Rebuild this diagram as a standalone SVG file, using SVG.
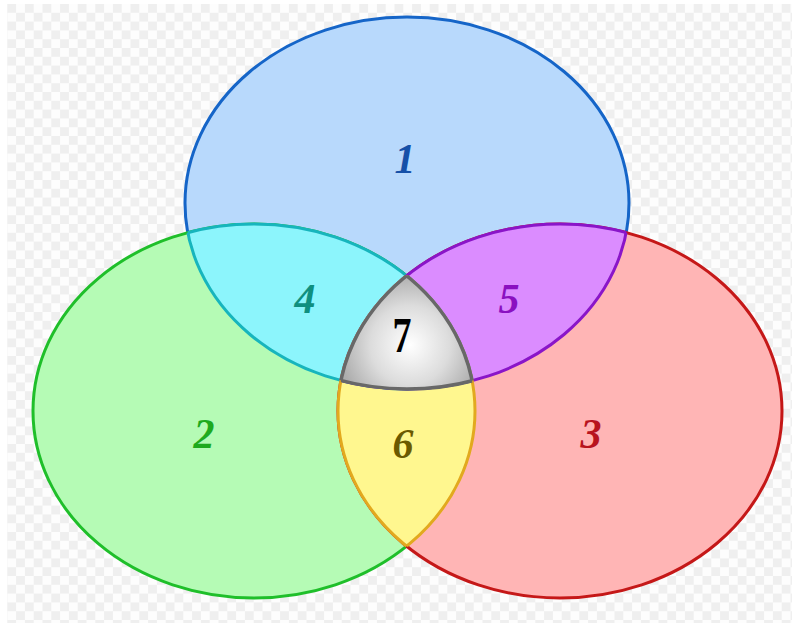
<svg xmlns="http://www.w3.org/2000/svg" width="792" height="623" viewBox="0 0 792 623">
  <style>
    .sw { stroke-width: 3; }
    .lbl { font-family: "Liberation Serif", "DejaVu Serif", serif; font-style: italic; font-weight: bold; font-size: 42px; text-anchor: middle; }
  </style>
  <defs>
    <pattern id="checker" patternUnits="userSpaceOnUse" x="7.3" y="4" width="17.6" height="17.6">
      <rect width="17.6" height="17.6" fill="#fdfdfd"/>
      <rect width="8.8" height="8.8" fill="#efefef"/>
      <rect x="8.8" y="8.8" width="8.8" height="8.8" fill="#efefef"/>
    </pattern>
    <radialGradient id="grayGrad" gradientUnits="userSpaceOnUse" cx="410" cy="345" r="72">
      <stop offset="0" stop-color="#ffffff"/>
      <stop offset="0.55" stop-color="#dcdcdc"/>
      <stop offset="1" stop-color="#acacac"/>
    </radialGradient>
    <clipPath id="cB"><ellipse cx="407" cy="203" rx="222" ry="186"/></clipPath>
    <clipPath id="cG"><ellipse cx="254" cy="411" rx="221" ry="187"/></clipPath>
    <clipPath id="cR"><ellipse cx="560" cy="411" rx="222" ry="187"/></clipPath>
  </defs>

  <rect width="792" height="623" fill="#ffffff"/>
  <rect x="7" y="4" width="785" height="619" fill="url(#checker)"/>

  <g id="set1">
    <ellipse cx="407" cy="203" rx="222" ry="186" fill="#b8d9fc" stroke="#1565c8" class="sw"/>
  </g>
  <g id="set2">
    <ellipse cx="254" cy="411" rx="221" ry="187" fill="#b5fbb5" stroke="#1fbf2a" class="sw"/>
  </g>
  <g id="set3">
    <ellipse cx="560" cy="411" rx="222" ry="187" fill="#ffb5b5" stroke="#c51818" class="sw"/>
  </g>

  <g id="region4">
    <ellipse cx="254" cy="411" rx="221" ry="187" fill="#8cf5fc" clip-path="url(#cB)"/>
  </g>
  <g id="region5">
    <ellipse cx="560" cy="411" rx="222" ry="187" fill="#db8cff" clip-path="url(#cB)"/>
  </g>
  <g id="region6">
    <ellipse cx="560" cy="411" rx="222" ry="187" fill="#fff78f" clip-path="url(#cG)"/>
  </g>

  <g id="edges" fill="none" class="sw">
    <ellipse cx="407" cy="203" rx="222" ry="186" stroke="#17b5bd" stroke-width="3" clip-path="url(#cG)"/>
    <ellipse cx="254" cy="411" rx="221" ry="187" stroke="#17b5bd" stroke-width="3" clip-path="url(#cB)"/>
    <ellipse cx="407" cy="203" rx="222" ry="186" stroke="#8a15c9" stroke-width="3" clip-path="url(#cR)"/>
    <ellipse cx="560" cy="411" rx="222" ry="187" stroke="#8a15c9" stroke-width="3" clip-path="url(#cB)"/>
    <ellipse cx="254" cy="411" rx="221" ry="187" stroke="#e2a91e" stroke-width="3" clip-path="url(#cR)"/>
    <ellipse cx="560" cy="411" rx="222" ry="187" stroke="#e2a91e" stroke-width="3" clip-path="url(#cG)"/>
  </g>

  <g id="region7">
    <g clip-path="url(#cG)">
      <ellipse cx="407" cy="203" rx="222" ry="186" fill="url(#grayGrad)" clip-path="url(#cR)"/>
    </g>
    <g clip-path="url(#cG)">
      <ellipse cx="407" cy="203" rx="222" ry="186" fill="none" stroke="#686868" stroke-width="3.5" clip-path="url(#cR)"/>
    </g>
    <g clip-path="url(#cB)">
      <ellipse cx="254" cy="411" rx="221" ry="187" fill="none" stroke="#686868" stroke-width="3.5" clip-path="url(#cR)"/>
    </g>
    <g clip-path="url(#cB)">
      <ellipse cx="560" cy="411" rx="222" ry="187" fill="none" stroke="#686868" stroke-width="3.5" clip-path="url(#cG)"/>
    </g>
  </g>

  <g id="labels">
    <text class="lbl" x="405" y="173" fill="#1550a8">1</text>
    <text class="lbl" x="204" y="448" fill="#1eaa1e">2</text>
    <text class="lbl" x="591" y="448" fill="#b8141e">3</text>
    <text class="lbl" x="305" y="313" fill="#0f8f7f">4</text>
    <text class="lbl" x="509" y="313" fill="#8a10c0">5</text>
    <text class="lbl" x="403" y="458" fill="#6b5a00">6</text>
    <text class="lbl" x="0" y="0" fill="#000000" style="font-style:normal;font-size:50px" transform="translate(402 352) scale(0.76 1)">7</text>
  </g>
</svg>
